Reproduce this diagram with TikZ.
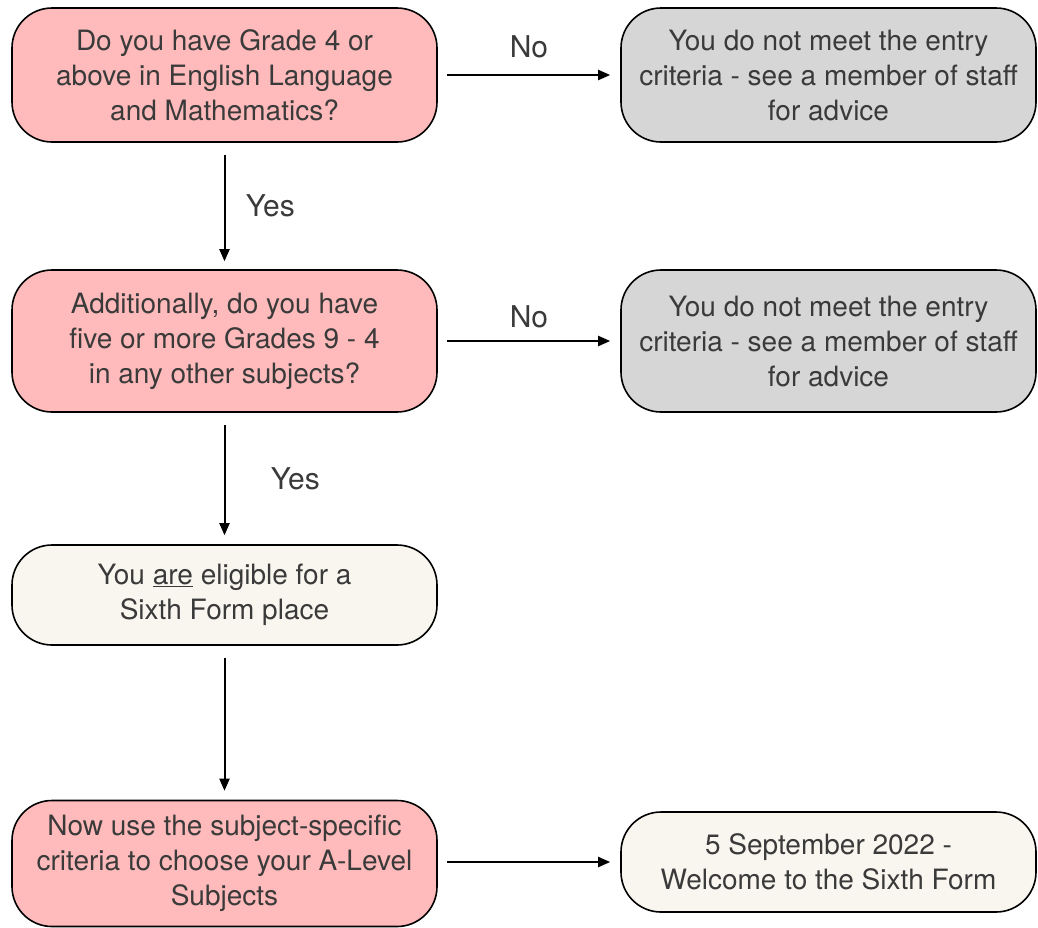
\documentclass[tikz,border=0pt]{standalone}
\usepackage{fontspec}
\setmainfont{TeX Gyre Heros}
\usetikzlibrary{arrows.meta}
\definecolor{redfill}{HTML}{FFBBBB}
\definecolor{grayfill}{HTML}{D6D6D6}
\definecolor{creamfill}{HTML}{F9F6EF}
\definecolor{txt}{HTML}{3A3A3A}
\tikzset{
  box/.style={draw=black, line width=1.6pt, rounded corners=40pt, align=center,
    text=txt, font=\fontsize{28}{35}\selectfont, inner sep=0pt},
  redbox/.style={box, fill=redfill},
  graybox/.style={box, fill=grayfill},
  creambox/.style={box, fill=creamfill},
  conn/.style={line width=2pt, -{Triangle[length=12pt,width=10pt]}},
  lbl/.style={text=txt, font=\fontsize{30}{35}\selectfont}
}
\begin{document}
\begin{tikzpicture}[x=1pt,y=-1pt]
\useasboundingbox (0,0) rectangle (1038,927);
\node[redbox, minimum width=425pt, minimum height=134pt] (q1) at (224.5,75)
  {Do you have Grade 4 or\\above in English Language\\and Mathematics?};
\node[graybox, minimum width=415pt, minimum height=134pt] (n1) at (828.5,75)
  {You do not meet the entry\\criteria - see a member of staff\\for advice};
\node[redbox, minimum width=425pt, minimum height=142pt] (q2) at (224.5,341)
  {Additionally, do you have\\five or more Grades 9 - 4\\in any other subjects?};
\node[graybox, minimum width=415pt, minimum height=142pt] (n2) at (828.5,341)
  {You do not meet the entry\\criteria - see a member of staff\\for advice};
\node[creambox, minimum width=425pt, minimum height=100pt] (el) at (224.5,595)
  {You \underline{are} eligible for a\\Sixth Form place};
\node[redbox, minimum width=425pt, minimum height=126pt] (sub) at (224.5,863.5)
  {Now use the subject-specific\\criteria to choose your A-Level\\Subjects};
\node[creambox, minimum width=415pt, minimum height=100pt] (wel) at (828.5,862)
  {5 September 2022 -\\Welcome to the Sixth Form};

\draw[conn, shorten <=9pt, shorten >=10pt] (q1.east) -- node[lbl, above=13pt] {No} (n1.west);
\draw[conn, shorten <=9pt, shorten >=10pt] (q2.east) -- node[lbl, above=9pt] {No} (n2.west);
\draw[conn, shorten <=9pt, shorten >=10pt] (sub.east |- wel.west) -- (wel.west);
\draw[conn, shorten <=12pt, shorten >=8pt] (q1.south) -- node[lbl, right=17pt] {Yes} (q2.north);
\draw[conn, shorten <=12pt, shorten >=9pt] (q2.south) -- node[lbl, right=42pt] {Yes} (el.north);
\draw[conn, shorten <=12pt, shorten >=9pt] (el.south) -- (sub.north);
\end{tikzpicture}
\end{document}
